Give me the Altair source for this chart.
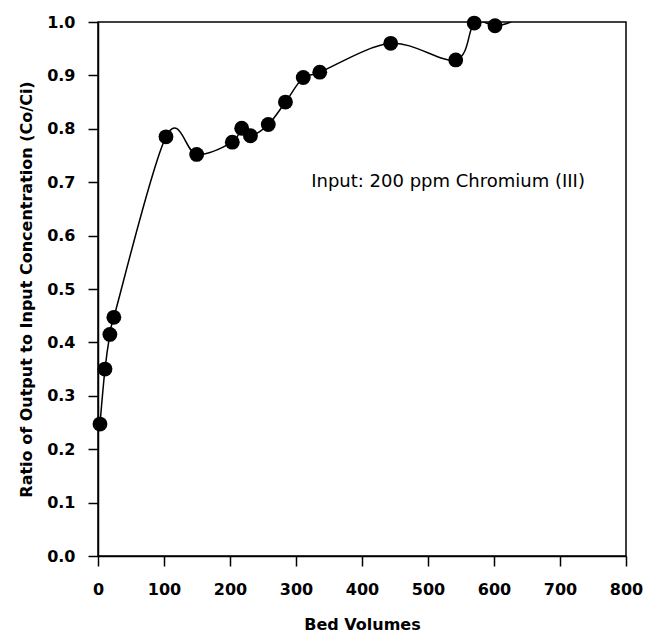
import altair as alt
import pandas as pd

# Measured data points (Bed Volumes, Co/Ci)
bed_volumes = [3, 10.6, 18, 24, 103, 149.5, 203.5, 217.7, 231, 258, 284, 311, 336, 443.5, 542, 570, 601.5]
ratio = [0.247, 0.350, 0.415, 0.447, 0.785, 0.752, 0.775, 0.801, 0.787, 0.808, 0.850, 0.896, 0.906, 0.960, 0.929, 0.998, 0.993]

# where the fitted curve leaves the plot frame (top edge)
curve_tail_x = [626]
curve_tail_y = [1.0]

x_ticks = [0, 100, 200, 300, 400, 500, 600, 700, 800]
y_ticks = [0.0, 0.1, 0.2, 0.3, 0.4, 0.5, 0.6, 0.7, 0.8, 0.9, 1.0]

annotation_text = ["Input: 200 ppm Chromium (III)"]
annotation_x = [323]
annotation_y = [0.70]

pts = pd.DataFrame({"bv": bed_volumes, "r": ratio})
curve = pd.DataFrame({"bv": bed_volumes + curve_tail_x, "r": ratio + curve_tail_y})
ann = pd.DataFrame({"t": annotation_text, "bv": annotation_x, "r": annotation_y})

FONT = "DejaVu Sans"

x_scale = alt.Scale(domain=[0, 800], nice=False, zero=False)
y_scale = alt.Scale(domain=[0, 1], nice=False)

x_axis = alt.Axis(
    title="Bed Volumes", values=x_ticks, format="d", grid=False,
    tickSize=10, labelPadding=15, titlePadding=19,
    labelFlush=False, labelOverlap=False,
)
y_axis = alt.Axis(
    title="Ratio of Output to Input Concentration (Co/Ci)", values=y_ticks, format=".1f",
    grid=False, tickSize=10, labelPadding=13, titlePadding=12,
    labelFlush=False, labelOverlap=False,
)

line = alt.Chart(curve).mark_line(
    interpolate="cardinal", color="black", strokeWidth=1.5, clip=True
).encode(
    x=alt.X("bv:Q", scale=x_scale, axis=x_axis),
    y=alt.Y("r:Q", scale=y_scale, axis=y_axis),
    order=alt.Order("bv:Q"),
)

points = alt.Chart(pts).mark_circle(size=220, color="black", opacity=1).encode(
    x=alt.X("bv:Q", scale=x_scale),
    y=alt.Y("r:Q", scale=y_scale),
)

text = alt.Chart(ann).mark_text(
    align="left", baseline="middle", font=FONT, fontSize=18, color="black"
).encode(
    x=alt.X("bv:Q", scale=x_scale),
    y=alt.Y("r:Q", scale=y_scale),
    text="t:N",
)

chart = alt.layer(line, points, text).properties(
    width=528, height=534,
    autosize=alt.AutoSizeParams(type="none"),
    padding={"left": 98, "top": 22, "right": 24, "bottom": 79},
    background="white",
).configure_view(
    stroke="black", strokeWidth=1.5
).configure_axis(
    domainColor="black", domainWidth=1.5, tickColor="black", tickWidth=1.5,
    labelColor="black", titleColor="black",
    labelFont=FONT, labelFontSize=16, labelFontWeight="bold",
    titleFont=FONT, titleFontSize=16, titleFontWeight="bold",
)

chart.save("out.html", embed_options={"renderer": "svg", "actions": False})
